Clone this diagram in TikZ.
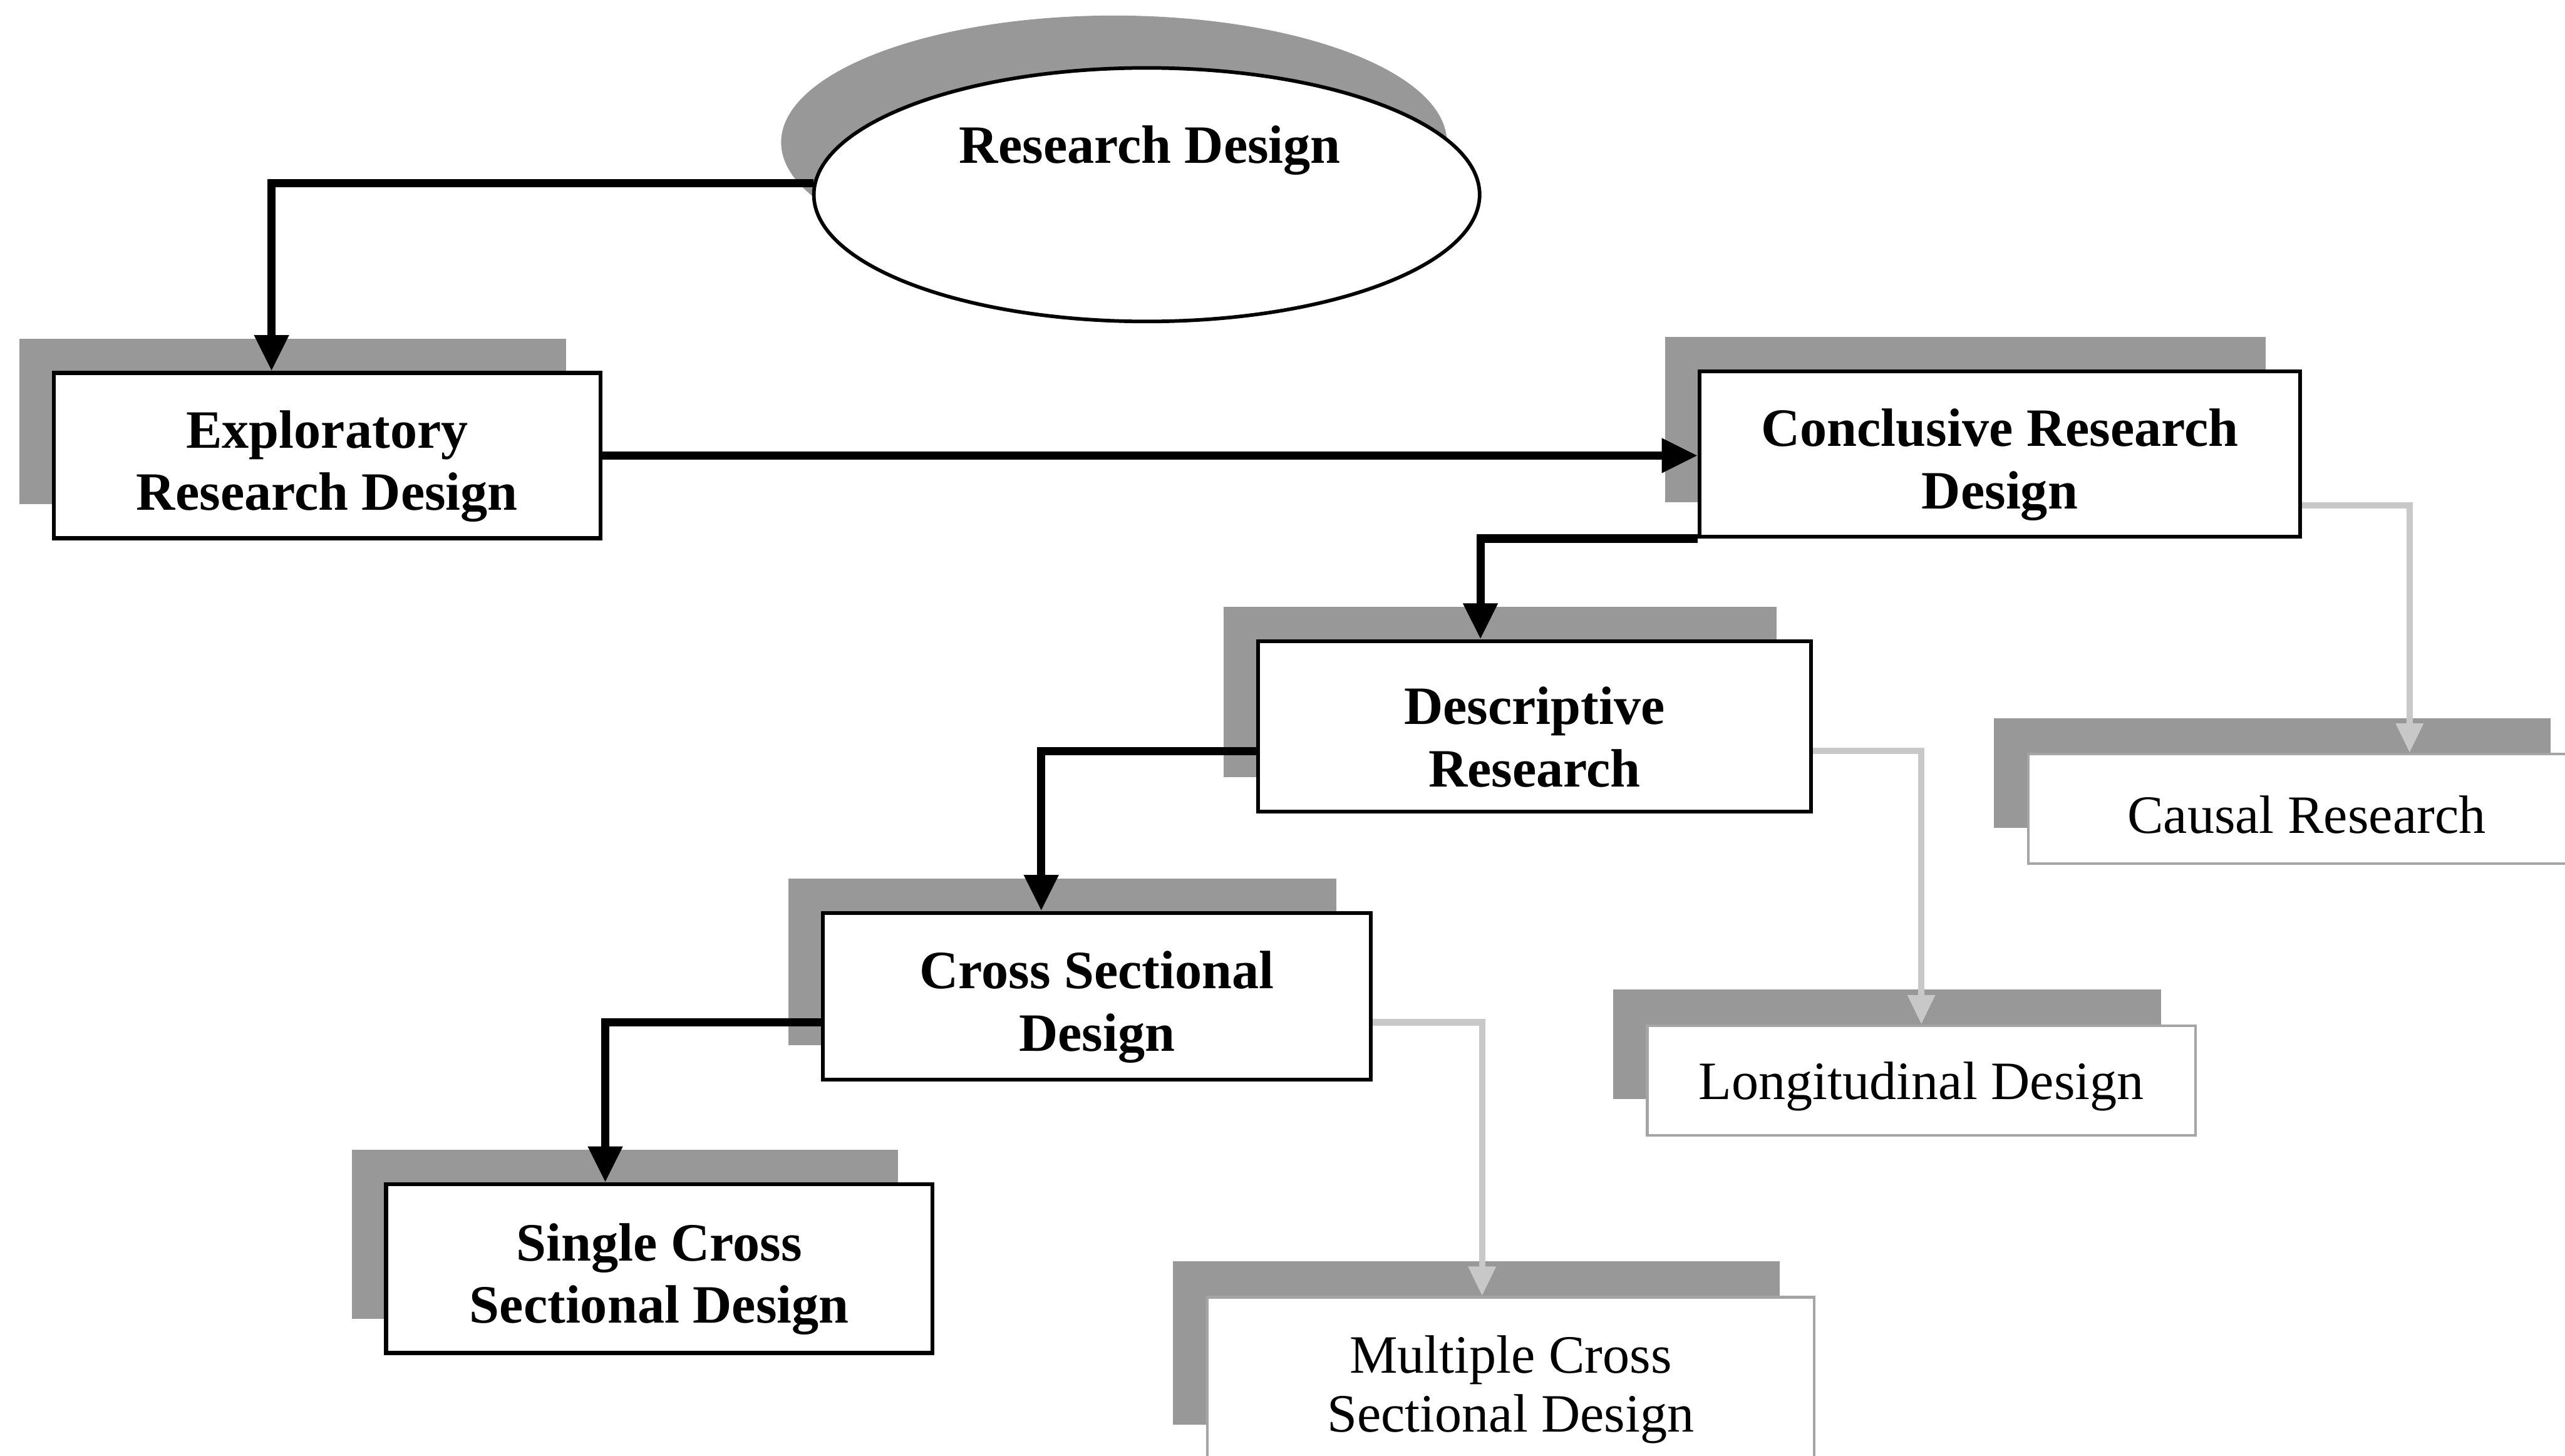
\documentclass[tikz,border=0pt]{standalone}
\usepackage{fontspec}
\setmainfont{Liberation Serif}
\usepackage{tikz}
\usetikzlibrary{shapes.geometric,shadows,arrows.meta}

\definecolor{shadowgray}{RGB}{152,152,152}
\definecolor{linkgray}{RGB}{200,200,200}
\definecolor{framegray}{RGB}{165,165,165}

\newcommand{\boxtop}{\rule{0pt}{18pt}}

\begin{document}
\begin{tikzpicture}[x=0.5pt,y=-0.5pt,
    mainbox/.style={draw=black, line width=1.2pt, fill=white, align=center, inner sep=0pt,
        font=\fontsize{16.5}{19}\selectfont\bfseries,
        general shadow={fill=shadowgray, shadow xshift=-10.5pt, shadow yshift=10.5pt}},
    subbox/.style={draw=framegray, line width=0.8pt, fill=white, align=center, inner sep=0pt,
        font=\fontsize{16.5}{18}\selectfont,
        execute at begin node={\rule{0pt}{15pt}},
        general shadow={fill=shadowgray, shadow xshift=-10.5pt, shadow yshift=11pt}},
    topoval/.style={ellipse, draw=black, line width=1.1pt, fill=white, inner sep=0pt,
        minimum width=203.5pt, minimum height=77.5pt,
        general shadow={fill=shadowgray, shadow xshift=-10pt, shadow yshift=16pt}},
    toptext/.style={font=\fontsize{16.5}{19}\selectfont\bfseries, inner sep=0pt},
    mainarrow/.style={line width=2.5pt, -{Triangle[length=11pt,width=10pt]}},
    subarrow/.style={draw=linkgray, line width=2pt, -{Triangle[length=9pt,width=8pt,fill=linkgray]}}
]
\fill[white] (0,0) rectangle (1568,890);
\useasboundingbox (0,0) rectangle (1568,890);

% Top
\node[topoval] (rd) at (701,119) {};
\node[toptext] (rdtext) at (703,92) {Research Design};

% Boxes
\node[mainbox, minimum width=167pt, minimum height=50.5pt] (erd) at (200,278.5) {\boxtop Exploratory\\Research Design};
\node[mainbox, minimum width=183.5pt, minimum height=50.5pt] (crd) at (1222.5,277.5) {\boxtop Conclusive Research\\Design};
\node[mainbox, minimum width=169pt, minimum height=52pt] (dr) at (938,444) {\boxtop Descriptive\\Research};
\node[mainbox, minimum width=167.5pt, minimum height=51pt] (csd) at (670.5,609) {\boxtop Cross Sectional\\Design};
\node[mainbox, minimum width=167pt, minimum height=51.5pt] (scsd) at (403,775.5) {\boxtop Single Cross\\Sectional Design};

\node[subbox, minimum width=170pt, minimum height=33.5pt] (cr) at (1410,494.5) {Causal Research};
\node[subbox, minimum width=167.5pt, minimum height=33.5pt] (ld) at (1174.5,660.5) {Longitudinal Design};
\node[subbox, minimum width=185.5pt, minimum height=50pt] (mcsd) at (923.5,843) {\boxtop Multiple Cross\\Sectional Design};

% Black arrows
\draw[mainarrow] (rd.178) -| ([xshift=-17pt]erd.north);
\draw[mainarrow] (erd.east) -- (erd.east -| crd.west);
\draw[mainarrow] (crd.south west) -| ([xshift=-16.5pt]dr.north);
\draw[mainarrow] ([yshift=-7.5pt]dr.west) -| ([xshift=-17pt]csd.north);
\draw[mainarrow] ([yshift=-8pt]csd.west) -| ([xshift=-16.5pt]scsd.north);

% Grey arrows
\draw[subarrow] ([yshift=-15.75pt]crd.east) -| ([xshift=31.5pt]cr.north);
\draw[subarrow] ([yshift=-7.5pt]dr.east) -| (ld.north);
\draw[subarrow] ([yshift=-8pt]csd.east) -| ([xshift=-8.75pt]mcsd.north);
\end{tikzpicture}
\end{document}
